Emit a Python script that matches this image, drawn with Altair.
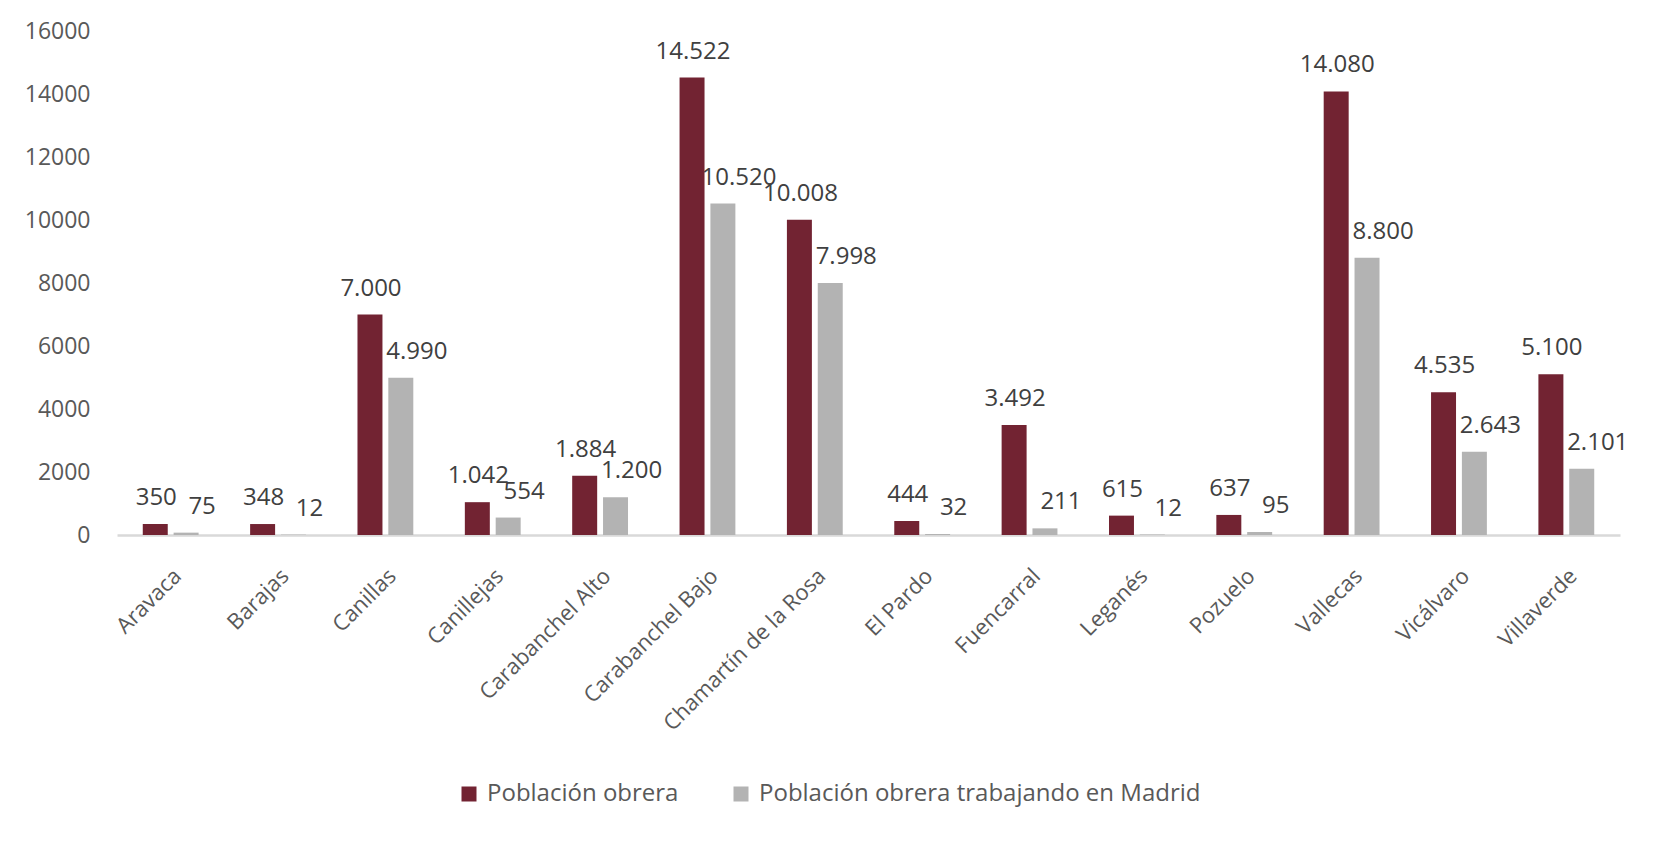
import altair as alt
import pandas as pd

categories = ["Aravaca", "Barajas", "Canillas", "Canillejas", "Carabanchel Alto",
              "Carabanchel Bajo", "Chamartín de la Rosa", "El Pardo", "Fuencarral",
              "Leganés", "Pozuelo", "Vallecas", "Vicálvaro", "Villaverde"]
poblacion_obrera = [350, 348, 7000, 1042, 1884, 14522, 10008, 444, 3492, 615, 637, 14080, 4535, 5100]
trabajando_madrid = [75, 12, 4990, 554, 1200, 10520, 7998, 32, 211, 12, 95, 8800, 2643, 2101]
series_names = ["Población obrera", "Población obrera trabajando en Madrid"]
series_colors = ["#722332", "#B3B3B3"]
y_ticks = [0, 2000, 4000, 6000, 8000, 10000, 12000, 14000, 16000]

rows = []
for i, c in enumerate(categories):
    for s, vals in zip(series_names, [poblacion_obrera, trabajando_madrid]):
        rows.append({"Distrito": c, "Serie": s, "Valor": vals[i],
                     "Etiqueta": f"{vals[i]:,}".replace(",", ".")})
df = pd.DataFrame(rows)

FONT = "Open Sans"

x_enc = alt.X("Distrito:N", sort=categories,
              scale=alt.Scale(paddingInner=0.48, paddingOuter=0.24),
              axis=alt.Axis(title=None, labelAngle=-45, labelFontSize=22, labelFont=FONT,
                            labelColor="#595959", ticks=False, domainColor="#D9D9D9",
                            domainWidth=2.5, labelPadding=30, labelLimit=400))
xoff = alt.XOffset("Serie:N", sort=series_names,
                   scale=alt.Scale(paddingInner=0.19, paddingOuter=0))
y_enc = alt.Y("Valor:Q", scale=alt.Scale(domain=[0, 16000], nice=False),
              axis=alt.Axis(title=None, values=y_ticks, format="d", grid=False, domain=False,
                            ticks=False, labelFontSize=23, labelFont=FONT,
                            labelColor="#595959", labelPadding=27))
color = alt.Color("Serie:N", sort=series_names,
                  scale=alt.Scale(domain=series_names, range=series_colors),
                  legend=alt.Legend(title=None, orient="none", direction="horizontal",
                                    legendX=340, legendY=751, symbolType="square",
                                    symbolSize=225, symbolStrokeWidth=0, labelFontSize=24,
                                    labelFont=FONT, labelColor="#595959", columnPadding=50,
                                    labelOffset=6, labelLimit=700))

bars = alt.Chart(df).mark_bar().encode(x=x_enc, xOffset=xoff, y=y_enc, color=color)


def labels(serie, dx):
    return alt.Chart(df).transform_filter(alt.datum.Serie == serie).mark_text(
        font=FONT, fontSize=24, color="#404040", baseline="alphabetic", dy=-19, dx=dx
    ).encode(x=alt.X("Distrito:N", sort=categories),
             xOffset=alt.XOffset("Serie:N", sort=series_names),
             y="Valor:Q", text="Etiqueta:N")


chart = alt.layer(bars, labels(series_names[0], 1), labels(series_names[1], 16)).properties(
    width=1503, height=504, background="white",
    autosize=alt.AutoSizeParams(type="none"),
    padding={"left": 109, "top": 23, "right": 26, "bottom": 298},
).configure_view(strokeWidth=0, stroke=None)

chart.save("out.html", embed_options={"renderer": "svg", "actions": False})
